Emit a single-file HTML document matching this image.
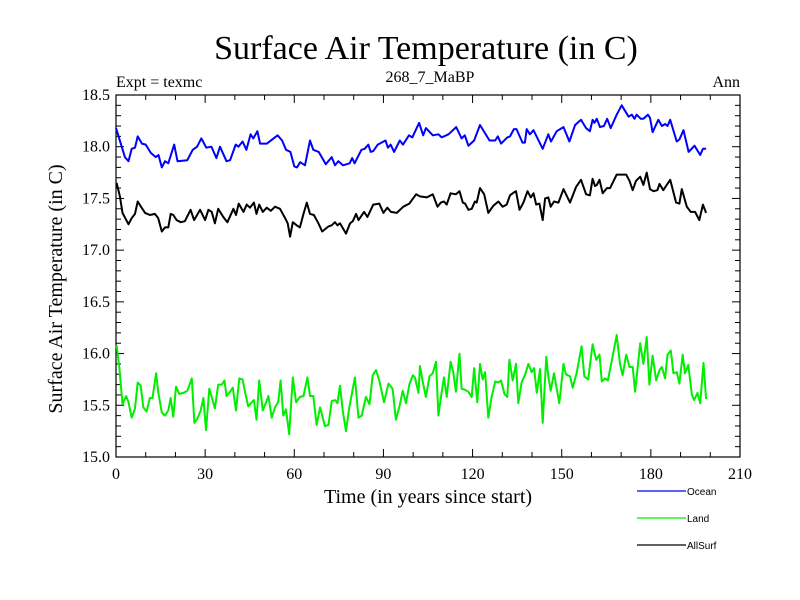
<!DOCTYPE html>
<html><head><meta charset="utf-8"><style>
body{margin:0;background:#fff}
svg{display:block}
text{font-family:"Liberation Serif",serif;fill:#000}
</style></head><body>
<svg id="chart" width="800" height="600">
<text x="426" y="59" font-size="34" text-anchor="middle">Surface Air Temperature (in C)</text>
<text x="116" y="87" font-size="16">Expt = texmc</text>
<text x="430" y="82" font-size="16" text-anchor="middle">268_7_MaBP</text>
<text x="740" y="87" font-size="16" text-anchor="end">Ann</text>
<text transform="translate(62,289) rotate(-90)" font-size="20" text-anchor="middle">Surface Air Temperature (in C)</text>
<text x="428" y="503" font-size="20" text-anchor="middle">Time (in years since start)</text>
<g id="axes"></g>
<g id="series"></g>
<g id="legend"></g>
</svg>
<script>
const xTicks=[0,30,60,90,120,150,180,210];
const yTicks=[15.0,15.5,16.0,16.5,17.0,17.5,18.0,18.5];
const yTickLabels=["15.0","15.5","16.0","16.5","17.0","17.5","18.0","18.5"];
const seriesNames=["Ocean","Land","AllSurf"];
const oceanYears=[0,3,4.2,5.3,6.4,7.3,8.7,10,11.7,13.4,14.3,15.4,16.5,17.6,19.6,20.7,24,25.8,27.3,28.7,30.4,32.1,33.8,35,37.2,38.4,40.3,41.2,42.6,43.9,45.3,46.2,47.6,48.5,50.8,54.4,55.9,57.2,58.7,60,60.9,62,63.6,65.3,66.4,68.2,70.6,72.6,73.7,74.8,76.4,78.6,79.5,80.3,82.6,83.7,84.9,85.7,86.6,88.1,90.7,91.5,92.4,93.6,95.5,96.6,98.6,99.7,102,103.4,104.3,106.6,108.5,109.6,111.9,114.5,116.3,117.4,118.6,120.5,122.5,125.7,127.6,128.5,129.6,131.7,132.6,133.9,134.8,136.8,137.6,138.2,139.3,140.5,143.6,145.5,146.4,148.3,150.6,152.6,154.5,156.5,158.2,159.5,160.4,161,161.8,162.9,164.2,165.3,166.5,168.5,170.2,172.5,173.6,174.5,175.2,176.6,177.5,179,179.7,180.6,182.5,183.7,184.8,185.6,186.5,188.7,189.6,191,192.7,194.7,196.6,197.5,198.6];
const oceanValues=[18.18,17.90,17.86,17.98,17.99,18.10,18.03,18.02,17.94,17.90,17.92,17.80,17.86,17.84,18.02,17.86,17.87,17.97,18.00,18.08,17.99,18.00,17.89,18.00,17.86,17.87,18.02,18.00,18.05,17.97,18.12,18.08,18.15,18.03,18.03,18.11,18.06,17.97,17.95,17.81,17.80,17.85,17.82,18.06,17.97,17.95,17.83,17.90,17.82,17.86,17.82,17.84,17.89,17.84,17.97,17.98,18.02,17.95,17.96,18.02,18.06,17.99,18.02,17.95,18.06,18.02,18.11,18.09,18.23,18.11,18.18,18.11,18.12,18.09,18.12,18.19,18.08,18.11,18.01,18.06,18.21,18.06,18.06,18.10,18.03,18.09,18.10,18.17,18.17,18.04,18.04,18.17,18.12,18.16,17.98,18.12,18.05,18.15,18.19,18.05,18.21,18.26,18.18,18.15,18.26,18.23,18.27,18.19,18.20,18.27,18.18,18.31,18.40,18.29,18.31,18.27,18.31,18.27,18.27,18.31,18.28,18.14,18.26,18.20,18.22,18.20,18.26,18.05,18.07,18.16,17.95,18.01,17.92,17.98,17.98];
const landYears=[0.2,1.1,2.2,3.4,4.2,5.3,6.4,7.3,8.3,9.2,10.3,11.4,12.3,13.5,14.2,15.4,16.5,17.6,18.4,19.3,20.2,21.3,22.7,24,25.5,26.4,27.4,28.5,29.4,30.3,31.4,32.2,33.3,34.4,35.6,36.5,37.2,38.4,39.3,40.4,41.5,42.6,43.4,44.5,45.7,46.4,47.3,48.2,49.4,50.5,51.3,52.4,53.5,54.6,55.4,56.3,57.2,58.3,59.5,60.6,61.9,63.1,64.4,65.3,66.4,67.5,68.7,70.3,71.5,72.6,73.7,74.5,75.4,76.3,77.4,78.5,80.4,81.6,82.7,84.1,85.3,86.4,87.5,88.6,90.2,91.7,93.1,94.2,95.4,96.5,97.6,98.7,99.9,100.6,101.8,102.3,103.2,104.3,105.5,106.6,107.7,108.5,109.6,110.4,111.3,112.6,113.5,114.4,115.6,116.3,117.5,118.6,119.7,120.5,121.6,122.5,123.4,124.2,125.3,126.4,127.6,128.7,129.6,130.7,131.7,132.4,133.5,134.6,135.4,136.5,137.7,138.8,139.9,140.7,141.6,142.7,143.6,144.8,145.5,146.3,147.4,149.2,150.6,151.4,152.8,153.7,155,156.7,157.6,158.9,160.4,161.6,162.7,163.5,164.6,165.5,166.8,168.5,169.6,170.5,171.7,172.8,173.9,174.7,176.4,177.5,178.6,179.5,180.6,181.8,182.9,183.7,184.8,185.6,186.7,187.6,188.7,189.6,190.7,191.5,192.6,193.8,194.6,195.7,196.6,197.7,198.6];
const landValues=[16.08,15.87,15.51,15.59,15.53,15.38,15.47,15.72,15.69,15.48,15.44,15.57,15.57,15.81,15.63,15.43,15.40,15.45,15.57,15.39,15.68,15.61,15.62,15.64,15.76,15.33,15.37,15.45,15.57,15.26,15.66,15.58,15.47,15.70,15.70,15.74,15.59,15.63,15.67,15.45,15.76,15.75,15.63,15.49,15.53,15.55,15.36,15.74,15.45,15.53,15.59,15.38,15.48,15.53,15.74,15.40,15.46,15.22,15.77,15.53,15.58,15.59,15.77,15.59,15.59,15.31,15.48,15.30,15.31,15.54,15.55,15.52,15.69,15.45,15.25,15.48,15.77,15.38,15.40,15.58,15.51,15.79,15.84,15.74,15.53,15.71,15.66,15.36,15.49,15.64,15.52,15.70,15.79,15.77,15.62,15.88,15.73,15.58,15.78,15.81,15.92,15.40,15.63,15.77,15.58,15.92,15.82,15.63,16.00,15.66,15.65,15.63,15.58,15.86,15.53,15.90,15.75,15.82,15.38,15.58,15.73,15.72,15.74,15.61,15.58,15.94,15.74,15.90,15.52,15.72,15.80,15.90,15.82,15.86,15.62,15.85,15.33,15.97,15.78,15.64,15.81,15.52,15.90,15.80,15.78,15.67,15.81,16.07,15.78,15.75,16.09,15.94,15.99,15.73,15.76,15.74,15.92,16.18,15.90,15.79,15.99,15.87,15.87,15.63,16.10,15.90,16.16,15.70,15.98,15.74,15.84,15.87,15.76,15.99,16.03,15.81,15.82,15.71,15.99,15.81,15.89,15.60,15.55,15.62,15.52,15.91,15.56];
const allYears=[0.2,1.3,2.2,4.2,5.3,6.4,7.3,8.6,9.8,11.4,13.1,14.2,15.4,16.5,17.6,18.4,19.3,20.4,21.8,23.2,25.1,26.3,28.3,30,31.1,32.2,33.3,34.4,36.1,37.5,39.5,40.4,41.3,42.9,44,45.1,46.4,47.3,48.2,49.4,50.7,52.1,53.5,55.2,56.9,57.8,58.6,59.5,60.8,61.9,63.1,64.2,65.3,66.6,68.1,69.4,71.5,72.6,73.7,74.5,75.4,77.4,78.8,79.7,80.8,81.6,83.5,84.6,86.6,88.6,90,91.3,92.5,94.5,96.7,98.7,101,102.3,104.6,106.6,108.2,109.3,110.4,111.3,112.6,114.4,115.6,116.7,117.5,118.6,119.7,120.8,121.4,122.5,123.9,125.3,127,128.7,130.1,131.5,132.6,134,134.6,135.8,137.1,138.5,139.6,140.5,141.4,142.5,143.6,144.4,145.5,146.3,147.4,148.9,150.6,152.8,154.8,156.5,158.2,159.5,160.4,161.2,161.8,162.7,163.8,165.2,166.3,168.5,170.8,171.7,172.8,173.9,175,176.4,177.5,178.6,179.7,180.9,182.2,182.9,184.2,185.1,186.5,188.5,189.6,190.4,192.1,193.4,194.9,196.3,197.5,198.6];
const allValues=[17.65,17.52,17.36,17.25,17.31,17.35,17.47,17.41,17.36,17.34,17.35,17.31,17.18,17.22,17.22,17.35,17.34,17.29,17.27,17.28,17.39,17.29,17.39,17.29,17.39,17.37,17.26,17.40,17.32,17.27,17.40,17.34,17.45,17.37,17.44,17.41,17.46,17.35,17.44,17.37,17.41,17.38,17.42,17.40,17.31,17.26,17.13,17.27,17.24,17.22,17.35,17.46,17.35,17.34,17.26,17.18,17.23,17.24,17.27,17.24,17.26,17.16,17.26,17.28,17.35,17.29,17.37,17.32,17.44,17.45,17.36,17.41,17.37,17.36,17.42,17.45,17.54,17.52,17.51,17.54,17.42,17.46,17.47,17.44,17.55,17.54,17.57,17.46,17.45,17.39,17.40,17.47,17.46,17.60,17.54,17.36,17.43,17.47,17.42,17.44,17.53,17.56,17.57,17.39,17.46,17.57,17.51,17.55,17.44,17.45,17.29,17.50,17.51,17.42,17.47,17.46,17.59,17.46,17.61,17.68,17.54,17.53,17.69,17.62,17.63,17.68,17.55,17.60,17.60,17.73,17.73,17.73,17.67,17.58,17.67,17.71,17.63,17.75,17.59,17.57,17.58,17.64,17.58,17.62,17.68,17.46,17.45,17.59,17.42,17.37,17.37,17.29,17.44,17.36];

const NS="http://www.w3.org/2000/svg";
const L=116,R=740,T=95,B=457,X0=0,X1=210,Y0=15,Y1=18.5;
const xs=v=>L+(v-X0)/(X1-X0)*(R-L);
const ys=v=>B-(v-Y0)/(Y1-Y0)*(B-T);
function mk(tag,attrs,parent){const e=document.createElementNS(NS,tag);for(const k in attrs)e.setAttribute(k,attrs[k]);parent.appendChild(e);return e;}
const axes=document.getElementById('axes');
const frame=mk('rect',{x:L,y:T,width:R-L,height:B-T,fill:'none',stroke:'#000','stroke-width':1.2},axes);


for(let v=X0;v<=X1+0.001;v+=10){
  const major=Math.abs(v%30)<0.001;const len=major?8:5;const x=xs(v);
  const t1=mk('line',{x1:x,x2:x,y1:B,y2:B-len,stroke:'#000'},axes);
  
  
  const t2=mk('line',{x1:x,x2:x,y1:T,y2:T+len,stroke:'#000'},axes);
  
  
}
xTicks.forEach(v=>{const t=mk('text',{x:xs(v),y:B+22,'font-size':16,'text-anchor':'middle'},axes);t.textContent=String(v);
  
  });
for(let i=0;i<=35;i++){
  const v=Y0+i*0.1;const major=i%5===0;const len=major?8:5;const y=ys(v);
  const t1=mk('line',{x1:L,x2:L+len,y1:y,y2:y,stroke:'#000'},axes);
  
  
  const t2=mk('line',{x1:R,x2:R-len,y1:y,y2:y,stroke:'#000'},axes);
  
  
}
yTicks.forEach((v,i)=>{const t=mk('text',{x:L-6,y:ys(v)+5,'font-size':16,'text-anchor':'end'},axes);t.textContent=yTickLabels[i];
  
  });
const ser=document.getElementById('series');
const data=[[oceanYears,oceanValues,'#0000ff','ocean-line'],[landYears,landValues,'#00ee00','land-line'],[allYears,allValues,'#000000','allsurf-line']];
data.forEach(d=>{
  const pts=d[0].map((yr,i)=>xs(yr).toFixed(1)+','+ys(d[1][i]).toFixed(1)).join(' ');
  const p=mk('polyline',{points:pts,fill:'none',stroke:d[2],'stroke-width':2,'stroke-linejoin':'round'},ser);
  
  
});
const leg=document.getElementById('legend');
const legColors=['#0000ff','#00ee00','#000000'];
seriesNames.forEach((n,i)=>{
  const y=491+i*27;
  const g=mk('g',{},leg);
  
  
  mk('line',{x1:637,x2:686,y1:y,y2:y,stroke:legColors[i],'stroke-width':1.2},g);
  const t=mk('text',{x:687,y:y+4,'font-size':10,style:'font-family:"Liberation Sans",sans-serif'},g);
  t.textContent=n;
});
</script>
</body></html>
